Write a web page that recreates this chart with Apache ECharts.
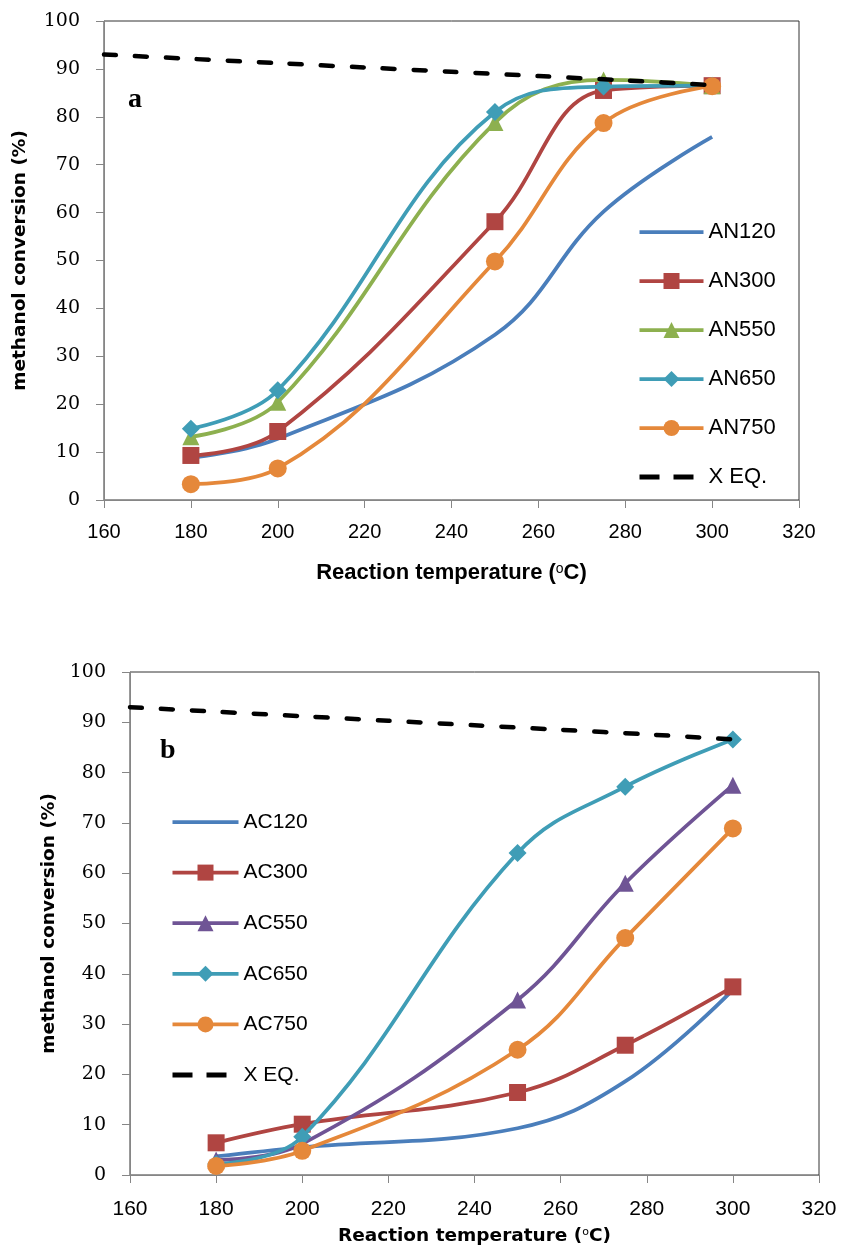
<!DOCTYPE html>
<html>
<head>
<meta charset="utf-8">
<script src="https://cdn.jsdelivr.net/npm/echarts@6/dist/echarts.min.js"></script>
<style>
html,body{margin:0;padding:0;background:#fff;}
#chart{width:841px;height:1247px;}
</style>
</head>
<body>
<div id="chart"></div>
<script>
// ---- data ----
const temps = [180, 200, 250, 275, 300];
const eqTemps = [160, 180, 200, 220, 240, 260, 280, 300];
const xEq = [93.0, 92.1, 91.2, 90.3, 89.4, 88.5, 87.6, 86.6];

const namesA = ['AN120', 'AN300', 'AN550', 'AN650', 'AN750'];
const an120 = [8.8, 12.8, 34.5, 60.2, 75.8];
const an300 = [9.3, 14.3, 58.1, 85.5, 86.5];
const an550 = [13.2, 20.4, 78.8, 87.7, 86.5];
const an650 = [14.9, 22.9, 81.0, 86.3, 86.5];
const an750 = [3.3, 6.6, 49.8, 78.7, 86.4];

const namesB = ['AC120', 'AC300', 'AC550', 'AC650', 'AC750'];
const ac120 = [3.7, 5.5, 9.3, 18.6, 36.8];
const ac300 = [6.4, 10.1, 16.4, 25.8, 37.4];
const ac550 = [3.0, 6.2, 34.8, 58.0, 77.5];
const ac650 = [2.2, 7.6, 64.0, 77.2, 86.6];
const ac750 = [1.8, 4.8, 24.9, 47.1, 68.9];

const xTicks = [160, 180, 200, 220, 240, 260, 280, 300, 320];
const yTicks = [0, 10, 20, 30, 40, 50, 60, 70, 80, 90, 100];
const eqName = 'X EQ.';

// ---- styles ----
const colors = ['#4A7EBB', '#B04542', '#8DB04F', '#3F9DB6', '#E5883A'];
const colorsB = ['#4A7EBB', '#B04542', '#6F5495', '#3F9DB6', '#E5883A'];
const symbols = ['none', 'rect', 'triangle', 'diamond', 'circle'];
const symSizes = [0, 17, 17, 18, 18];
const lineW = 3.75;
const eqDash = [12, 19];

function pairs(xs, ys) { return xs.map((x, i) => [x, ys[i]]); }

function makeSeries(names, vals, cols, idx, eqLabel) {
  const out = names.map((n, i) => ({
    name: n, type: 'line', xAxisIndex: idx, yAxisIndex: idx,
    data: pairs(temps, vals[i]),
    smooth: 0.4,
    symbol: symbols[i], symbolSize: symSizes[i], showSymbol: symbols[i] !== 'none',
    lineStyle: { color: cols[i], width: lineW },
    itemStyle: { color: cols[i] },
    z: 2 + i
  }));
  out.push({
    name: eqLabel, type: 'line', xAxisIndex: idx, yAxisIndex: idx,
    data: pairs(eqTemps, xEq), smooth: 0.3, symbol: 'none', showSymbol: false,
    lineStyle: { color: '#000', width: 4.5, type: eqDash, cap: 'round' },
    itemStyle: { color: '#000' }, z: 10
  });
  return out;
}

function legendData(names, eqLabel) {
  const d = names.map((n, i) => symbols[i] === 'none'
    ? { name: n, itemStyle: { opacity: 0 }, lineStyle: { width: lineW } }
    : { name: n, lineStyle: { width: lineW } });
  d.push({ name: eqLabel, itemStyle: { opacity: 0 }, lineStyle: { width: 5, type: [20, 14], cap: 'butt', color: '#000' } });
  return d;
}

const axisGray = '#868686';
function xAx(idx, fam, size, margin, nameFont, nameSize, nameGap) {
  return {
    gridIndex: idx, type: 'value', min: xTicks[0], max: xTicks[xTicks.length - 1], interval: 20,
    splitLine: { show: false },
    axisLine: { onZero: false, lineStyle: { color: axisGray, width: 1 } },
    axisTick: { length: 8, lineStyle: { color: axisGray } },
    axisLabel: { fontFamily: fam, fontSize: size, color: '#000', margin: margin },
    name: '{t|Reaction temperature (}{s|o}{t|C)}', nameLocation: 'middle', nameGap: nameGap,
    nameTextStyle: {
      rich: {
        t: { fontFamily: nameFont, fontWeight: 'bold', fontSize: nameSize, color: '#000' },
        s: { fontFamily: nameFont, fontWeight: 'normal', fontSize: Math.round(nameSize * 0.62), color: '#000', verticalAlign: 'top', padding: [0, 0, 8, 0] }
      }
    }
  };
}
function yAx(idx, fam, size, margin, nameFont, nameSize, nameGap) {
  return {
    gridIndex: idx, type: 'value', min: yTicks[0], max: yTicks[yTicks.length - 1], interval: 10,
    splitLine: { show: false },
    axisLine: { show: true, lineStyle: { color: axisGray, width: 1 } },
    axisTick: { show: true, length: 8, lineStyle: { color: axisGray } },
    axisLabel: { fontFamily: fam, fontSize: size, color: '#000', margin: margin },
    name: 'methanol conversion (%)', nameLocation: 'middle', nameGap: nameGap,
    nameTextStyle: { fontFamily: nameFont, fontWeight: 'bold', fontSize: nameSize, color: '#000' }
  };
}

const eqA = eqName, eqB = eqName + ' ';
const seriesA = makeSeries(namesA, [an120, an300, an550, an650, an750], colors, 0, eqA);
const seriesB = makeSeries(namesB, [ac120, ac300, ac550, ac650, ac750], colorsB, 1, eqB);

const option = {
  animation: false,
  backgroundColor: '#fff',
  grid: [
    { left: 104, top: 21, width: 695, height: 479, show: true, borderColor: '#333', borderWidth: 1, backgroundColor: 'transparent' },
    { left: 130, top: 672, width: 689, height: 503, show: true, borderColor: '#333', borderWidth: 1, backgroundColor: 'transparent' }
  ],
  xAxis: [
    xAx(0, 'Liberation Sans', 20, 22, 'Liberation Sans', 22, 62),
    xAx(1, 'Liberation Sans', 21, 24, 'DejaVu Sans', 18.5, 52)
  ],
  yAxis: [
    yAx(0, 'DejaVu Serif', 19, 24, 'DejaVu Sans', 18.5, 74),
    yAx(1, 'DejaVu Serif', 19, 24, 'DejaVu Sans', 18.5, 71)
  ],
  legend: [
    {
      data: legendData(namesA, eqA), orient: 'vertical', left: 637, top: 221, padding: 0,
      itemWidth: 64, itemHeight: 20, itemGap: 27,
      textStyle: { fontFamily: 'Liberation Sans', fontSize: 22, lineHeight: 22, color: '#000', padding: [0, 0, 0, 0] }
    },
    {
      data: legendData(namesB, eqB), orient: 'vertical', left: 170, top: 811, padding: 0,
      itemWidth: 66, itemHeight: 20, itemGap: 28.6,
      textStyle: { fontFamily: 'Liberation Sans', fontSize: 21, lineHeight: 22, color: '#000', padding: [0, 0, 0, 0] }
    }
  ],
  graphic: [
    { type: 'text', left: 128, top: 86, style: { text: 'a', font: 'bold 28px "Liberation Serif"', fill: '#000' } },
    { type: 'text', left: 160, top: 737, style: { text: 'b', font: 'bold 28px "Liberation Serif"', fill: '#000' } }
  ],
  series: seriesA.concat(seriesB)
};

const chart = echarts.init(document.getElementById('chart'), null, { renderer: 'canvas' });
chart.setOption(option);
</script>
</body>
</html>
